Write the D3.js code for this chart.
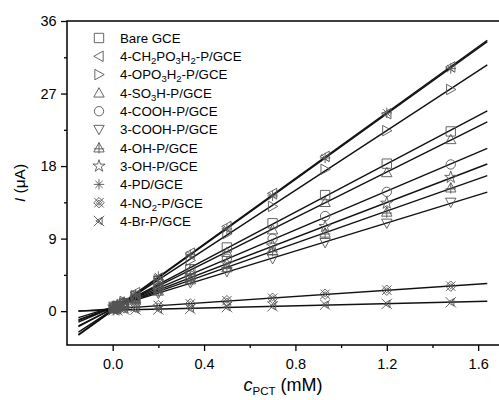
<!DOCTYPE html>
<html>
<head>
<meta charset="utf-8">
<script src="https://cdn.jsdelivr.net/npm/d3@7"></script>
<style>
  body { margin: 0; background: #fff; }
  svg { display: block; font-family: "Liberation Sans", Arial, sans-serif; }
</style>
</head>
<body>
<svg id="chart" width="499" height="400"></svg>
<script>
// concentrations of PCT (mM)
const conc = [0.005, 0.02, 0.05, 0.1, 0.2, 0.34, 0.5, 0.7, 0.93, 1.2, 1.48];

// peak currents (uA) per electrode
const bareGCE   = [0.4, 0.6, 1.0, 1.9, 3.3, 5.2, 7.9, 10.9, 14.4, 18.3, 22.3];
const ch2po3h2  = [0.2, 0.6, 1.0, 2.3, 4.1, 7.2, 10.5, 14.6, 19.2, 24.5, 30.3];
const opo3h2    = [0.3, 0.5, 1.2, 1.9, 3.9, 6.3, 9.6, 13.0, 17.6, 22.4, 27.5];
const so3h      = [0.4, 0.7, 1.0, 1.6, 3.2, 5.1, 7.3, 10.1, 13.5, 17.2, 21.3];
const cooh4     = [0.5, 0.6, 1.0, 1.7, 2.9, 4.4, 6.5, 9.0, 11.8, 14.8, 18.2];
const cooh3     = [0.6, 0.7, 0.9, 1.4, 2.2, 3.5, 4.9, 6.5, 8.5, 10.9, 13.5];
const oh4       = [0.5, 0.6, 1.0, 1.4, 2.5, 3.9, 5.4, 7.5, 9.7, 12.3, 15.3];
const oh3       = [0.5, 0.7, 1.0, 1.5, 2.7, 4.1, 5.9, 8.1, 10.5, 13.4, 16.6];
const pd4       = [0.1, 0.5, 1.1, 2.0, 4.3, 7.0, 10.2, 14.3, 19.0, 24.6, 30.1];
const no2       = [0.3, 0.3, 0.4, 0.5, 0.7, 0.9, 1.3, 1.6, 2.1, 2.6, 3.1];
const br4       = [0.1, 0.1, 0.2, 0.2, 0.2, 0.3, 0.5, 0.6, 0.8, 0.9, 1.1];

// legend names ("_x" = subscript char) and marker kinds
const names = ["Bare GCE", "4-CH_2PO_3H_2-P/GCE", "4-OPO_3H_2-P/GCE", "4-SO_3H-P/GCE",
  "4-COOH-P/GCE", "3-COOH-P/GCE", "4-OH-P/GCE", "3-OH-P/GCE", "4-PD/GCE",
  "4-NO_2-P/GCE", "4-Br-P/GCE"];
const symbols = ["square", "left", "right", "up", "circle", "down", "upcross",
  "star", "asterisk", "diamondx", "xtri"];
const values = [bareGCE, ch2po3h2, opo3h2, so3h, cooh4, cooh3, oh4, oh3, pd4, no2, br4];

const xTicks = [0, 0.4, 0.8, 1.2, 1.6];
const xMinor = [0.2, 0.6, 1.0, 1.4];
const yTicks = [0, 9, 18, 27, 36];
const yMinor = [4.5, 13.5, 22.5, 31.5];
const fitRange = [-0.15, 1.64];

const series = names.map((n, i) => ({ name: n, symbol: symbols[i], pts: conc.map((c, j) => [c, values[i][j]]) }));

const svg = d3.select("#chart");
const x = d3.scaleLinear().domain([-0.2, 1.7]).range([67, 501]);
const y = d3.scaleLinear().domain([-4.2, 36]).range([345, 21]);

// frame
svg.append("rect")
  .attr("x", x(-0.2)).attr("y", y(36))
  .attr("width", x(1.7) - x(-0.2)).attr("height", y(-4.2) - y(36))
  .attr("fill", "none").attr("stroke", "#000").attr("stroke-width", 1.5);

// axes
const xAxis = svg.append("g").attr("transform", `translate(0,${y(-4.2)})`)
  .call(d3.axisBottom(x).tickValues(xTicks).tickFormat(d3.format(".1f")).tickSize(6).tickSizeOuter(0));
svg.append("g").attr("transform", `translate(0,${y(-4.2)})`)
  .call(d3.axisBottom(x).tickValues(xMinor).tickFormat("").tickSize(3).tickSizeOuter(0));
const yAxis = svg.append("g").attr("transform", `translate(${x(-0.2)},0)`)
  .call(d3.axisLeft(y).tickValues(yTicks).tickSize(6).tickSizeOuter(0));
svg.append("g").attr("transform", `translate(${x(-0.2)},0)`)
  .call(d3.axisLeft(y).tickValues(yMinor).tickFormat("").tickSize(3).tickSizeOuter(0));
svg.selectAll(".domain").remove();
svg.selectAll(".tick line").attr("stroke", "#000").attr("stroke-width", 1.3);
svg.selectAll(".tick text").attr("font-size", 14.5).attr("fill", "#000")
  .attr("font-family", "Liberation Sans, Arial, sans-serif");
xAxis.selectAll(".tick text").attr("dy", "1.05em");
yAxis.selectAll(".tick text").attr("dx", "-0.1em");

// axis titles
const yl = svg.append("text")
  .attr("transform", `translate(25,${(y(36) + y(-4.2)) / 2}) rotate(-90)`)
  .attr("text-anchor", "middle").attr("font-size", 15.5);
yl.append("tspan").attr("font-style", "italic").text("I");
yl.append("tspan").text(" (\u03bcA)");

const xl = svg.append("text")
  .attr("x", (x(-0.2) + 499) / 2).attr("y", 391)
  .attr("text-anchor", "middle").attr("font-size", 18);
xl.append("tspan").attr("font-style", "italic").text("c");
xl.append("tspan").attr("font-size", 11.5).attr("dy", 4).text("PCT");
xl.append("tspan").attr("dy", -4).text(" (mM)");

// marker path generator (centred on 0,0)
function markerPath(kind, r) {
  const p = d3.path();
  const tri = (pts) => { p.moveTo(pts[0][0], pts[0][1]); pts.slice(1).forEach(q => p.lineTo(q[0], q[1])); p.closePath(); };
  switch (kind) {
    case "square": p.rect(-r * 0.9, -r * 0.9, r * 1.8, r * 1.8); break;
    case "circle": p.arc(0, 0, r * 0.9, 0, 2 * Math.PI); break;
    case "up": tri([[0, -r], [r, r * 0.8], [-r, r * 0.8]]); break;
    case "down": tri([[0, r], [r, -r * 0.8], [-r, -r * 0.8]]); break;
    case "left": tri([[-r, 0], [r * 0.8, -r], [r * 0.8, r]]); break;
    case "right": tri([[r, 0], [-r * 0.8, -r], [-r * 0.8, r]]); break;
    case "upcross":
      tri([[0, -r], [r, r * 0.8], [-r, r * 0.8]]);
      p.moveTo(0, -r); p.lineTo(0, r * 1.1);
      p.moveTo(-r, r * 0.2); p.lineTo(r, r * 0.2);
      break;
    case "star": return d3.symbol(d3.symbolStar, r * r * 1.7)();
    case "asterisk":
      for (let a = 0; a < 4; a++) {
        const t = a * Math.PI / 4;
        p.moveTo(Math.cos(t) * r, Math.sin(t) * r); p.lineTo(-Math.cos(t) * r, -Math.sin(t) * r);
      }
      break;
    case "diamondx":
      tri([[0, -r], [r, 0], [0, r], [-r, 0]]);
      p.moveTo(-r * 0.9, -r * 0.9); p.lineTo(r * 0.9, r * 0.9);
      p.moveTo(r * 0.9, -r * 0.9); p.lineTo(-r * 0.9, r * 0.9);
      tri([[0, -r * 0.5], [r * 0.5, 0], [0, r * 0.5], [-r * 0.5, 0]]);
      break;
    case "xtri":
      p.moveTo(-r, -r); p.lineTo(r, r);
      p.moveTo(r, -r); p.lineTo(-r, r);
      tri([[-r * 0.6, 0], [r * 0.6, -r * 0.7], [r * 0.6, r * 0.7]]);
      break;
  }
  return p.toString();
}

// least-squares fit per series
function fit(pts) {
  const mx = d3.mean(pts, d => d[0]), my = d3.mean(pts, d => d[1]);
  const b = d3.sum(pts, d => (d[0] - mx) * (d[1] - my)) / d3.sum(pts, d => (d[0] - mx) ** 2);
  return { a: my - b * mx, b: b };
}

const line = d3.line().x(d => x(d[0])).y(d => y(d[1]));
const plot = svg.append("g");

series.forEach(s => {
  const f = fit(s.pts);
  plot.append("path")
    .attr("d", line(fitRange.map(c => [c, f.a + f.b * c])))
    .attr("fill", "none").attr("stroke", "#111").attr("stroke-width", 1.4);
});

series.forEach(s => {
  plot.selectAll(null).data(s.pts).enter().append("path")
    .attr("transform", d => `translate(${x(d[0])},${y(d[1])})`)
    .attr("d", markerPath(s.symbol, 5.2))
    .attr("fill", "none").attr("stroke", "#555").attr("stroke-width", 0.9);
});

// legend
const legend = svg.append("g").attr("transform", "translate(99,38)");
series.forEach((s, i) => {
  const g = legend.append("g").attr("transform", `translate(0,${i * 18.3})`);
  g.append("path").attr("d", markerPath(s.symbol, 5.2))
    .attr("fill", "none").attr("stroke", "#555").attr("stroke-width", 0.9);
  const t = g.append("text").attr("x", 21).attr("y", 4.8).attr("font-size", 13.3);
  let shift = 0;
  s.name.split(/(_.)/).filter(str => str.length).forEach(part => {
    if (part[0] === "_") {
      t.append("tspan").attr("font-size", 9.5).attr("dy", 3 - shift).text(part[1]);
      shift = 3;
    } else {
      t.append("tspan").attr("dy", -shift).text(part);
      shift = 0;
    }
  });
});
</script>
</body>
</html>
